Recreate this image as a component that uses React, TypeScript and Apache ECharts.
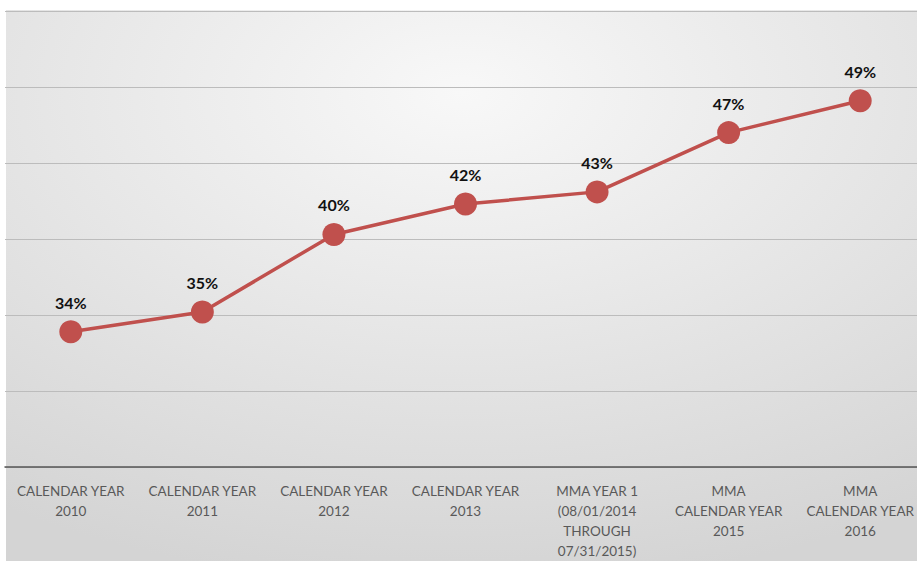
import React, { useEffect, useRef } from "react";
import * as echarts from "echarts";

const categories = [
  "CALENDAR YEAR\n2010",
  "CALENDAR YEAR\n2011",
  "CALENDAR YEAR\n2012",
  "CALENDAR YEAR\n2013",
  "MMA YEAR 1\n(08/01/2014\nTHROUGH\n07/31/2015)",
  "MMA\nCALENDAR YEAR\n2015",
  "MMA\nCALENDAR YEAR\n2016",
];
const values = [33.9, 35.2, 40.3, 42.3, 43.1, 47.0, 49.1];
const valueLabels = ["34%", "35%", "40%", "42%", "43%", "47%", "49%"];

export default function App() {
  const ref = useRef<HTMLDivElement>(null);
  useEffect(() => {
    document.body.style.margin = "0";
    const chart = echarts.init(ref.current!, null, { renderer: "svg" });
    chart.setOption({
      animation: false,
      backgroundColor: "#ffffff",
      graphic: [
        {
          type: "rect",
          z: -10,
          silent: true,
          shape: { x: 6, y: 10, width: 930, height: 551 },
          style: {
            fill: {
              type: "radial",
              x: 0.49,
              y: 0.15,
              r: 0.9,
              colorStops: [
                { offset: 0, color: "#f8f8f8" },
                { offset: 1, color: "#d4d4d4" },
              ],
            },
          },
        },
      ],
      grid: { left: 5, top: 11, width: 921, height: 458, containLabel: false },
      xAxis: {
        type: "category",
        data: categories,
        boundaryGap: true,
        axisLine: { lineStyle: { color: "#555555", width: 1.5 } },
        axisTick: { show: false },
        axisLabel: {
          interval: 0,
          margin: 14,
          color: "#595959",
          fontFamily: "Lato",
          fontSize: 13.5,
          lineHeight: 20,
        },
      },
      yAxis: {
        type: "value",
        min: 25,
        max: 55,
        interval: 5,
        axisLabel: { show: false },
        axisLine: { show: false },
        axisTick: { show: false },
        splitLine: { lineStyle: { color: "#bcbcbc", width: 1 } },
      },
      series: [
        {
          type: "line",
          data: values,
          symbol: "circle",
          symbolSize: 23,
          itemStyle: { color: "#c0504d" },
          lineStyle: { color: "#c0504d", width: 3.5 },
          label: {
            show: true,
            position: "top",
            distance: 10,
            color: "#111111",
            fontWeight: "bold",
            fontFamily: "Lato",
            fontSize: 16,
            formatter: (p: any) => valueLabels[p.dataIndex],
          },
        },
      ],
    });
    return () => chart.dispose();
  }, []);
  return (
    <div style={{ width: 917, height: 561, overflow: "hidden" }}>
      <div ref={ref} style={{ width: 936, height: 561 }} />
    </div>
  );
}
